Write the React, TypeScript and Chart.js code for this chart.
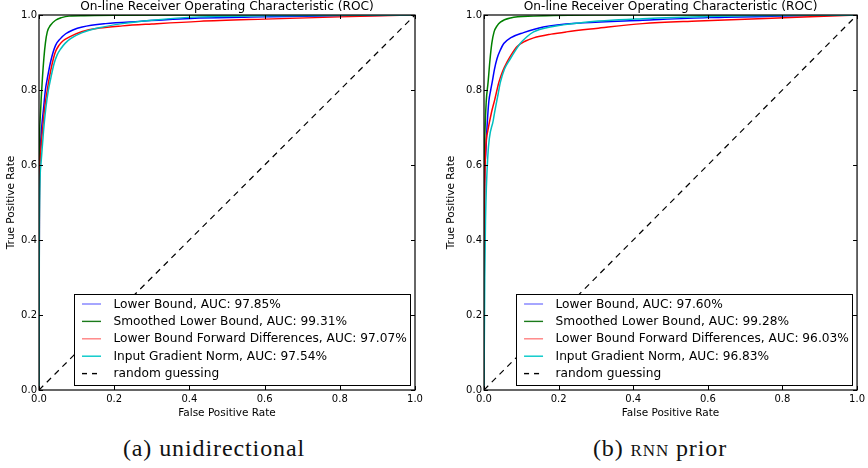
import React, { useEffect, useRef } from 'react';
import { Chart, registerables } from 'chart.js';

Chart.register(...registerables);

// ---------- text ----------
const chartTitle = 'On-line Receiver Operating Characteristic (ROC)';
const xAxisLabel = 'False Positive Rate';
const yAxisLabel = 'True Positive Rate';
const seriesNames = ['Lower Bound', 'Smoothed Lower Bound', 'Lower Bound Forward Differences', 'Input Gradient Norm'];
const randomLabel = 'random guessing';
const tickValues = [0, 0.2, 0.4, 0.6, 0.8, 1.0];

const aucA = ['97.85%', '99.31%', '97.07%', '97.54%'];
const aucB = ['97.60%', '99.28%', '96.03%', '96.83%'];

// ---------- (a) unidirectional ----------
const fprA_lower = [0, 0.001, 0.003, 0.007, 0.012, 0.017, 0.022, 0.032, 0.044, 0.057, 0.071, 0.09, 0.115, 0.177, 0.266, 0.426, 0.6, 0.8, 1];
const tprA_lower = [0, 0.5, 0.63, 0.7, 0.75, 0.8, 0.83, 0.88, 0.919, 0.937, 0.95, 0.96, 0.968, 0.977, 0.983, 0.992, 0.995, 0.998, 1];
const fprA_smooth = [0, 0.001, 0.003, 0.006, 0.009, 0.013, 0.017, 0.022, 0.03, 0.044, 0.06, 0.08, 0.12, 0.2, 0.4, 1];
const tprA_smooth = [0, 0.6, 0.72, 0.78, 0.83, 0.885, 0.925, 0.955, 0.972, 0.986, 0.993, 0.997, 0.998, 0.999, 1, 1];
const fprA_fwd = [0, 0.001, 0.004, 0.01, 0.016, 0.022, 0.027, 0.035, 0.043, 0.053, 0.065, 0.08, 0.115, 0.16, 0.222, 0.3, 0.426, 0.6, 0.8, 0.96, 1];
const tprA_fwd = [0, 0.5, 0.63, 0.7, 0.76, 0.8, 0.83, 0.87, 0.9, 0.919, 0.932, 0.941, 0.956, 0.965, 0.971, 0.976, 0.983, 0.989, 0.995, 0.999, 1];
const fprA_grad = [0, 0.001, 0.005, 0.012, 0.018, 0.025, 0.031, 0.04, 0.048, 0.058, 0.07, 0.084, 0.115, 0.16, 0.222, 0.3, 0.426, 0.6, 1];
const tprA_grad = [0, 0.45, 0.6, 0.69, 0.75, 0.8, 0.83, 0.87, 0.893, 0.91, 0.925, 0.937, 0.953, 0.966, 0.977, 0.986, 0.995, 0.998, 1];

// ---------- (b) RNN prior ----------
const fprB_lower = [0, 0.001, 0.004, 0.008, 0.013, 0.018, 0.022, 0.028, 0.035, 0.044, 0.053, 0.071, 0.106, 0.159, 0.265, 0.425, 0.6, 0.8, 1];
const tprB_lower = [0, 0.5, 0.62, 0.7, 0.77, 0.8, 0.821, 0.855, 0.884, 0.907, 0.924, 0.939, 0.953, 0.968, 0.979, 0.986, 0.993, 0.997, 1];
const fprB_smooth = [0, 0.001, 0.003, 0.006, 0.011, 0.016, 0.021, 0.027, 0.035, 0.044, 0.071, 0.133, 0.3, 1];
const tprB_smooth = [0, 0.55, 0.7, 0.77, 0.821, 0.88, 0.925, 0.955, 0.971, 0.981, 0.992, 0.997, 1, 1];
const fprB_fwd = [0, 0.001, 0.003, 0.01, 0.02, 0.029, 0.036, 0.04, 0.05, 0.062, 0.075, 0.088, 0.11, 0.133, 0.18, 0.221, 0.3, 0.425, 0.573, 0.839, 1];
const tprB_fwd = [0, 0.4, 0.6, 0.69, 0.74, 0.775, 0.805, 0.821, 0.85, 0.875, 0.897, 0.915, 0.93, 0.939, 0.949, 0.955, 0.964, 0.977, 0.984, 0.994, 1];
const fprB_grad = [0, 0.002, 0.004, 0.01, 0.025, 0.038, 0.044, 0.055, 0.071, 0.084, 0.097, 0.115, 0.133, 0.177, 0.265, 0.425, 0.6, 1];
const tprB_grad = [0, 0.3, 0.45, 0.62, 0.72, 0.79, 0.821, 0.856, 0.884, 0.905, 0.924, 0.942, 0.955, 0.968, 0.98, 0.99, 0.996, 1];

const randomFpr = [0, 1];
const randomTpr = [0, 1];

const lineColors = ['#0000ff', '#008000', '#ff0000', '#00bfbf'];
const legendColors = ['#8080ff', '#1a7a1a', '#ff8080', '#00c8c8'];

const FONT = '"DejaVu Sans", sans-serif';

function pts(xs: number[], ys: number[]) {
  return xs.map((x, i) => ({ x, y: ys[i] }));
}

const framePlugin = {
  id: 'frameTicksLegend',
  afterDraw(chart: any) {
    const ctx = chart.ctx;
    const { left, right, top, bottom } = chart.chartArea;
    const xs = chart.scales.x;
    const ys = chart.scales.y;
    ctx.save();
    ctx.strokeStyle = '#000';
    ctx.lineWidth = 1;
    tickValues.forEach((v) => {
      const px = Math.round(xs.getPixelForValue(v)) + 0.5;
      ctx.beginPath();
      ctx.moveTo(px, bottom);
      ctx.lineTo(px, bottom - 4);
      ctx.moveTo(px, top);
      ctx.lineTo(px, top + 4);
      ctx.stroke();
      const py = Math.round(ys.getPixelForValue(v)) + 0.5;
      ctx.beginPath();
      ctx.moveTo(left, py);
      ctx.lineTo(left + 4, py);
      ctx.moveTo(right, py);
      ctx.lineTo(right - 4, py);
      ctx.stroke();
    });
    ctx.lineWidth = 1.2;
    ctx.strokeRect(left, top, right - left, bottom - top);

    // legend box (lower right)
    const boxW = 336;
    const boxH = 91;
    const bx = right - 5 - boxW;
    const by = bottom - 5 - boxH;
    ctx.fillStyle = '#fff';
    ctx.fillRect(bx, by, boxW, boxH);
    ctx.lineWidth = 1;
    ctx.strokeStyle = '#000';
    ctx.strokeRect(Math.round(bx) + 0.5, Math.round(by) + 0.5, boxW, boxH);
    ctx.font = '12.2px ' + FONT;
    ctx.textBaseline = 'middle';
    ctx.textAlign = 'left';
    chart.data.datasets.forEach((ds: any, i: number) => {
      const cy = by + 10 + i * 17.4;
      ctx.beginPath();
      ctx.strokeStyle = ds.legendColor;
      ctx.lineWidth = 1.4;
      ctx.setLineDash(ds.borderDash && ds.borderDash.length ? [5, 5] : []);
      ctx.moveTo(bx + 8, cy);
      ctx.lineTo(bx + 27, cy);
      ctx.stroke();
      ctx.setLineDash([]);
      ctx.fillStyle = '#000';
      ctx.fillText(ds.label, bx + 39.5, cy + 0.5);
    });
    ctx.restore();
  },
};

type Panel = {
  fpr: number[][];
  tpr: number[][];
  auc: string[];
  yWidth: number;
  rightPad: number;
  yTitlePad: number;
};

function makeConfig(p: Panel): any {
  const datasets: any[] = seriesNames.map((name, i) => ({
    label: `${name}, AUC: ${p.auc[i]}`,
    data: pts(p.fpr[i], p.tpr[i]),
    borderColor: lineColors[i],
    legendColor: legendColors[i],
    borderWidth: 1.5,
    pointRadius: 0,
    showLine: true,
    cubicInterpolationMode: 'monotone',
    order: 4 - i,
  }));
  datasets.push({
    label: randomLabel,
    data: pts(randomFpr, randomTpr),
    borderColor: '#000',
    legendColor: '#000',
    borderWidth: 1.2,
    borderDash: [6, 5],
    pointRadius: 0,
    showLine: true,
    order: 0,
  });
  return {
    type: 'scatter',
    data: { datasets },
    options: {
      animation: false,
      responsive: false,
      layout: { padding: { left: 0, right: p.rightPad, top: 0, bottom: 0 } },
      plugins: {
        legend: { display: false },
        tooltip: { enabled: false },
        title: {
          display: true,
          text: chartTitle,
          fullSize: false,
          color: '#000',
          font: { family: FONT, size: 12.2, weight: 'normal', lineHeight: 1 },
          padding: { top: 0.5, bottom: 2.3 },
        },
      },
      scales: {
        x: {
          type: 'linear',
          min: 0,
          max: 1,
          grid: { display: false, drawTicks: false },
          border: { display: false },
          ticks: {
            stepSize: 0.2,
            padding: 3,
            color: '#000',
            font: { family: FONT, size: 10 },
            callback: (v: number) => v.toFixed(1),
            maxRotation: 0,
          },
          title: {
            display: true,
            text: xAxisLabel,
            color: '#000',
            font: { family: FONT, size: 10.5, lineHeight: 1.2 },
            padding: { top: 0, bottom: 5.7 },
          },
          afterFit: (s: any) => {
            s.height = 35;
          },
        },
        y: {
          type: 'linear',
          min: 0,
          max: 1,
          grid: { display: false, drawTicks: false },
          border: { display: false },
          ticks: {
            stepSize: 0.2,
            padding: 2,
            color: '#000',
            font: { family: FONT, size: 10 },
            callback: (v: number) => v.toFixed(1),
          },
          title: {
            display: true,
            text: yAxisLabel,
            color: '#000',
            font: { family: FONT, size: 10.5, lineHeight: 1.2 },
            padding: { top: p.yTitlePad, bottom: 0 },
          },
          afterFit: (s: any) => {
            s.width = p.yWidth;
          },
        },
      },
    },
    plugins: [framePlugin],
  };
}

const panelA: Panel = {
  fpr: [fprA_lower, fprA_smooth, fprA_fwd, fprA_grad],
  tpr: [tprA_lower, tprA_smooth, tprA_fwd, tprA_grad],
  auc: aucA,
  yWidth: 39,
  rightPad: 19,
  yTitlePad: 5,
};

const panelB: Panel = {
  fpr: [fprB_lower, fprB_smooth, fprB_fwd, fprB_grad],
  tpr: [tprB_lower, tprB_smooth, tprB_fwd, tprB_grad],
  auc: aucB,
  yWidth: 50,
  rightPad: 7.3,
  yTitlePad: 11,
};

function RocCanvas({ panel, left }: { panel: Panel; left: number }) {
  const ref = useRef<HTMLCanvasElement | null>(null);
  useEffect(() => {
    if (!ref.current) return;
    const chart = new Chart(ref.current, makeConfig(panel));
    return () => chart.destroy();
  }, [panel]);
  return (
    <canvas
      ref={ref}
      width={434}
      height={425}
      style={{ position: 'absolute', left, top: 0, width: 434, height: 425 }}
    />
  );
}

const captionStyle: React.CSSProperties = {
  position: 'absolute',
  top: 432,
  height: 32,
  lineHeight: '32px',
  textAlign: 'center',
  fontFamily: '"Liberation Serif", "DejaVu Serif", serif',
  fontSize: 24,
  letterSpacing: '0.9px',
  color: '#111',
  whiteSpace: 'nowrap',
};

export default function App() {
  return (
    <div style={{ position: 'absolute', left: 0, top: 0, width: 868, height: 468, background: '#fff', overflow: 'hidden' }}>
      <RocCanvas panel={panelA} left={0} />
      <RocCanvas panel={panelB} left={434} />
      <div style={{ ...captionStyle, left: 94, width: 240 }}>(a) unidirectional</div>
      <div style={{ ...captionStyle, left: 540, width: 240 }}>
        (b) <span style={{ fontVariant: 'small-caps' }}>rnn</span> prior
      </div>
    </div>
  );
}
